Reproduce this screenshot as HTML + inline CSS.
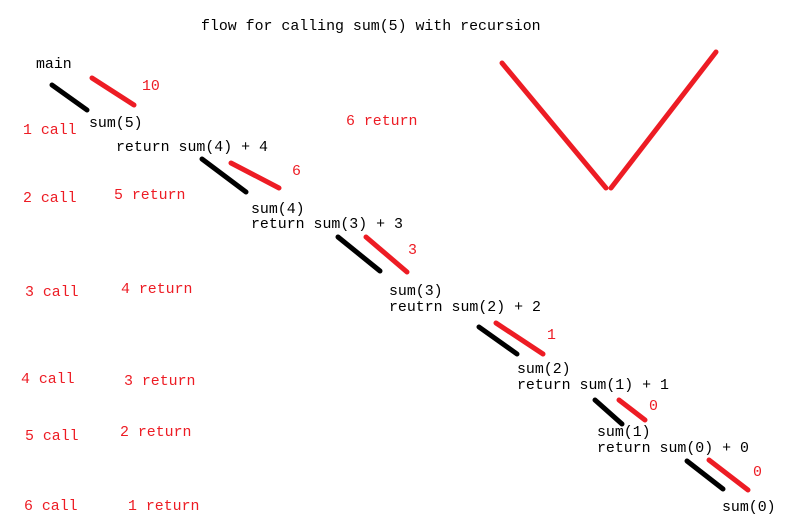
<!DOCTYPE html>
<html><head><style>body{margin:0;background:#fff}svg{display:block}text{font-family:"Liberation Mono",monospace;font-size:14.9px}</style></head><body>
<svg width="812" height="521" viewBox="0 0 812 521">
<rect width="812" height="521" fill="#fff"/>
<g stroke-linecap="round" stroke-width="5">
<g stroke="#000">
<line x1="52" y1="85" x2="87" y2="110"/>
<line x1="202" y1="159" x2="246" y2="192"/>
<line x1="338" y1="237" x2="380" y2="271"/>
<line x1="479" y1="327" x2="517" y2="354"/>
<line x1="595" y1="400" x2="622" y2="424"/>
<line x1="687" y1="461" x2="723" y2="489"/>
</g>
<g stroke="#ed1c24">
<line x1="92" y1="78" x2="134" y2="105"/>
<line x1="231" y1="163" x2="279" y2="188"/>
<line x1="366" y1="237" x2="407" y2="272"/>
<line x1="496" y1="323" x2="543" y2="354"/>
<line x1="619" y1="400" x2="645" y2="420"/>
<line x1="709" y1="460" x2="748" y2="490"/>
<line x1="502" y1="63" x2="606" y2="188"/>
<line x1="611" y1="188" x2="716" y2="52"/>
</g>
</g>
<g fill="#000">
<text x="201" y="30">flow for calling sum(5) with recursion</text>
<text x="36" y="68">main</text>
<text x="89" y="127">sum(5)</text>
<text x="116" y="151">return sum(4) + 4</text>
<text x="251" y="213">sum(4)</text>
<text x="251" y="228">return sum(3) + 3</text>
<text x="389" y="295">sum(3)</text>
<text x="389" y="311">reutrn sum(2) + 2</text>
<text x="517" y="373">sum(2)</text>
<text x="517" y="389">return sum(1) + 1</text>
<text x="597" y="436">sum(1)</text>
<text x="597" y="452">return sum(0) + 0</text>
<text x="722" y="511">sum(0)</text>
</g>
<g fill="#ed1c24">
<text x="142" y="90">10</text>
<text x="292" y="175">6</text>
<text x="408" y="254">3</text>
<text x="547" y="339">1</text>
<text x="649" y="410">0</text>
<text x="753" y="476">0</text>
<text x="346" y="125">6 return</text>
<text x="23" y="134">1 call</text>
<text x="23" y="202">2 call</text>
<text x="114" y="199">5 return</text>
<text x="25" y="296">3 call</text>
<text x="121" y="293">4 return</text>
<text x="21" y="383">4 call</text>
<text x="124" y="385">3 return</text>
<text x="25" y="440">5 call</text>
<text x="120" y="436">2 return</text>
<text x="24" y="510">6 call</text>
<text x="128" y="510">1 return</text>
</g>
</svg>
</body></html>
